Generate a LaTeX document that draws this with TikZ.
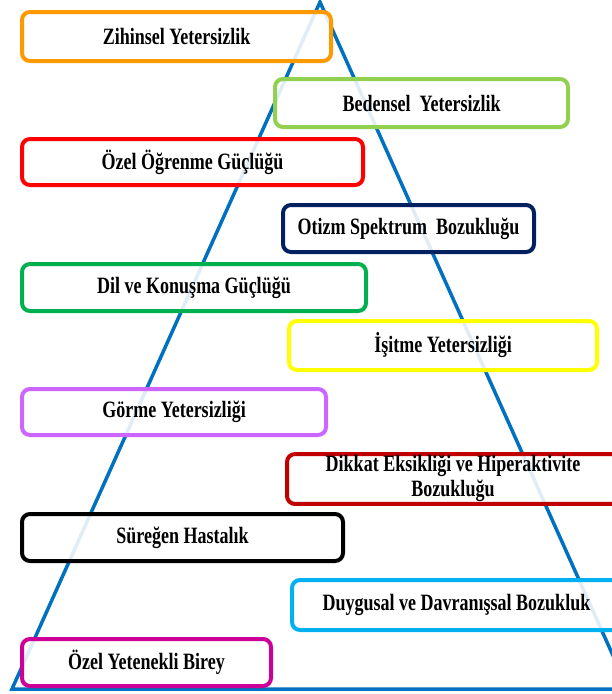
\documentclass[tikz,border=0pt]{standalone}
\usepackage{fontspec}
\setmainfont{Liberation Serif}
\usepackage{graphicx}
\definecolor{triblue}{RGB}{0, 112, 192}
\definecolor{boxorange}{RGB}{255, 153, 0}
\definecolor{boxlime}{RGB}{146, 208, 80}
\definecolor{boxred}{RGB}{255, 0, 0}
\definecolor{boxnavy}{RGB}{0, 32, 96}
\definecolor{boxgreen}{RGB}{0, 176, 80}
\definecolor{boxyellow}{RGB}{255, 255, 0}
\definecolor{boxlilac}{RGB}{204, 102, 255}
\definecolor{boxdarkred}{RGB}{192, 0, 0}
\definecolor{boxsky}{RGB}{0, 176, 240}
\definecolor{boxmagenta}{RGB}{204, 0, 153}
\newcommand{\tall}[1]{\scalebox{1}[1.3]{#1}}

\begin{document}
\begin{tikzpicture}[x=1pt,y=-1pt,
    catbox/.style={line width=4pt, rounded corners=8pt,
        fill=white, fill opacity=0.88, text opacity=1, text=black,
        inner sep=0pt, font=\fontsize{18}{19.2}\selectfont\bfseries}]
        \clip (0,0) rectangle (612,694);

        % Pyramid
        \draw[triblue, line width=3.5pt, line join=miter]
            (320,2) -- (628,689) -- (12,689) -- cycle;

        % Categories, left column
        \node[catbox, draw=boxorange, minimum width=309pt, minimum height=49pt] (zihinsel) at (176.5,36.5) {\tall{Zihinsel Yetersizlik}};
        \node[catbox, draw=boxred, minimum width=341pt, minimum height=46pt] (ogrenme) at (192.5,162) {\tall{Özel Öğrenme Güçlüğü}};
        \node[catbox, draw=boxgreen, minimum width=344pt, minimum height=47pt] (dil) at (194,287.5) {\tall{Dil ve Konuşma Güçlüğü}};
        \node[catbox, draw=boxlilac, minimum width=304pt, minimum height=46pt] (gorme) at (174,412) {\tall{Görme Yetersizliği}};
        \node[catbox, draw=black, minimum width=321pt, minimum height=47pt] (suregen) at (182.5,537.5) {\tall{Süreğen Hastalık}};
        \node[catbox, draw=boxmagenta, minimum width=249pt, minimum height=47pt] (yetenekli) at (146.5,662.5) {\tall{Özel Yetenekli Birey}};

        % Categories, right column
        \node[catbox, draw=boxlime, minimum width=293pt, minimum height=48pt] (bedensel) at (421.5,103) {\tall{Bedensel\ \ Yetersizlik}};
        \node[catbox, draw=boxnavy, minimum width=251pt, minimum height=47pt] (otizm) at (408.5,228.5) {\tall{Otizm Spektrum\ \ Bozukluğu}};
        \node[catbox, draw=boxyellow, minimum width=308pt, minimum height=49pt] (isitme) at (443,345.5) {\tall{İşitme Yetersizliği}};
        \node[catbox, draw=boxdarkred, minimum width=332pt, minimum height=48pt] (dikkat) at (453,479) {\tall{\begin{tabular}{@{}c@{}}Dikkat Eksikliği ve Hiperaktivite\\Bozukluğu\end{tabular}}};
        \node[catbox, draw=boxsky, minimum width=329pt, minimum height=50pt] (duygusal) at (456.5,605) {\tall{Duygusal ve Davranışsal Bozukluk}};
    \end{tikzpicture}
\end{document}
